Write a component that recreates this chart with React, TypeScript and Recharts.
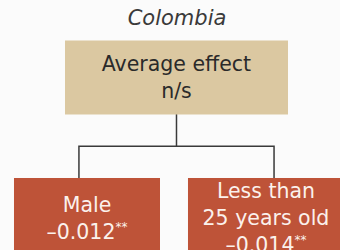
import { Scatter, ScatterChart, XAxis, YAxis } from "recharts";

const TITLE = "Colombia";

// tree nodes: root first, then its children
const nodeLines = [["Average effect"], ["Male"], ["Less than", "25 years old"]];
const nodeValues = ["n/s", "–0.012", "–0.014"];
const nodeStars = ["", "**", "**"];
const nodeLevel = [0, 1, 1];
const nodeSlot = [2, 1, 3];
const nodeParent = [-1, 0, 0];
// where each node's connector meets it (slot units)
const stemSlot = [2, 0.91, 3.09];
const joinLevel = 0.49;

const BOX_W = [223, 146, 156];
const BOX_H = [74, 80];
const BOX_FILL = ["#dbc8a1", "#be5338"];
const TEXT_FILL = ["#2a2a2a", "#fbf1ec"];
const FONT = "'DejaVu Sans', sans-serif";
const LINE_H = 27;

const nodes = nodeLines.map((lines, i) => ({
  x: nodeSlot[i],
  y: nodeLevel[i],
  lines,
  value: nodeValues[i],
  stars: nodeStars[i],
  idx: i,
}));

// elbow connectors: parent stem down to join level, across, down to each child
const children = nodes.filter((n) => nodeParent[n.idx] === 0);
const rootStem = [
  { x: stemSlot[0], y: nodeLevel[0] },
  { x: stemSlot[0], y: joinLevel },
];
const childStems = [
  { x: stemSlot[children[0].idx], y: nodeLevel[children[0].idx] },
  { x: stemSlot[children[0].idx], y: joinLevel },
  { x: stemSlot[children[1].idx], y: joinLevel },
  { x: stemSlot[children[1].idx], y: nodeLevel[children[1].idx] },
];

function NodeBox(props: any) {
  const { cx, cy, payload } = props;
  const i = payload.idx;
  const lvl = nodeLevel[i];
  const w = BOX_W[i];
  const h = BOX_H[lvl];
  const all = payload.lines.length + 1;
  const first = cy - ((all - 1) * LINE_H) / 2 + 7.5;
  return (
    <g>
      <rect x={cx - w / 2} y={cy - h / 2} width={w} height={h} fill={BOX_FILL[lvl]} />
      <text textAnchor="middle" fontFamily={FONT} fontSize={20.5} fill={TEXT_FILL[lvl]}>
        {payload.lines.map((l: string, k: number) => (
          <tspan key={k} x={cx} y={first + k * LINE_H}>
            {l}
          </tspan>
        ))}
        <tspan x={cx} y={first + payload.lines.length * LINE_H}>
          {payload.value}
          {payload.stars && (
            <tspan fontSize={12} dy={-8}>
              {payload.stars}
            </tspan>
          )}
        </tspan>
      </text>
    </g>
  );
}

const noDot = () => <g />;

export default function App() {
  return (
    <div style={{ position: "fixed", left: 0, top: 0, width: 340, height: 250, background: "#fbfbfb" }}>
      <div
        style={{
          position: "absolute",
          left: 0,
          width: 354,
          top: 8,
          lineHeight: "21px",
          textAlign: "center",
          fontFamily: FONT,
          fontStyle: "italic",
          fontSize: 21,
          color: "#3a3a3a",
        }}
      >
        {TITLE}
      </div>
      <ScatterChart width={340} height={250} margin={{ top: 0, right: 0, bottom: 0, left: 0 }}>
        <XAxis type="number" dataKey="x" domain={[0.028, 3.827]} hide />
        <YAxis type="number" dataKey="y" domain={[-0.5516, 1.2278]} reversed hide />
        <Scatter data={rootStem} line={{ stroke: "#3a3a3a", strokeWidth: 1.5 }} shape={noDot} isAnimationActive={false} />
        <Scatter data={childStems} line={{ stroke: "#3a3a3a", strokeWidth: 1.5 }} shape={noDot} isAnimationActive={false} />
        <Scatter data={nodes} shape={NodeBox} isAnimationActive={false} />
      </ScatterChart>
    </div>
  );
}
